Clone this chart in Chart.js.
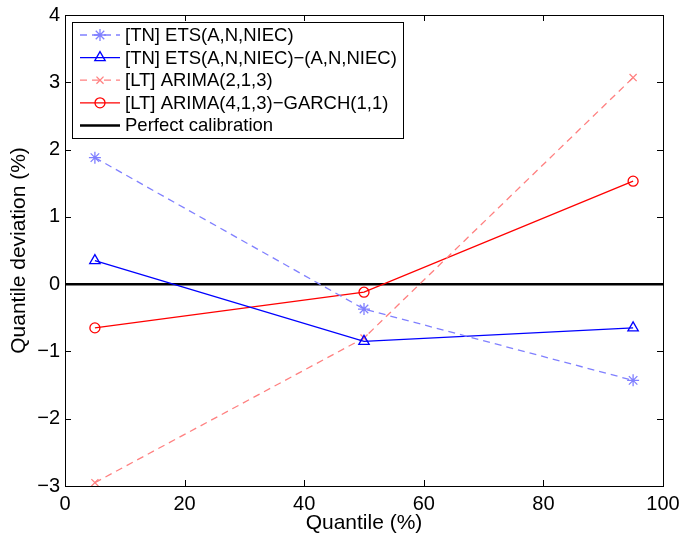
<!DOCTYPE html>
<html>
<head>
<meta charset="utf-8">
<script src="https://cdn.jsdelivr.net/npm/chart.js@4/dist/chart.umd.min.js"></script>
<style>
  html, body { margin: 0; padding: 0; background: #fff; }
</style>
</head>
<body>
<canvas id="chart" width="682" height="536"></canvas>
<script>
// quantile levels and deviations
const quantiles = [5, 50, 95];
const etsValues = [1.88, -0.37, -1.43];
const etsNiecValues = [0.35, -0.85, -0.65];
const arimaValues = [-2.95, -0.80, 3.07];
const garchValues = [-0.65, -0.12, 1.53];
const calibrationX = [0, 100];
const calibrationY = [0, 0];

const seriesLabels = [
  '[TN] ETS(A,N,NIEC)',
  '[TN] ETS(A,N,NIEC)\u2212(A,N,NIEC)',
  '[LT] ARIMA(2,1,3)',
  '[LT] ARIMA(4,1,3)\u2212GARCH(1,1)',
  'Perfect calibration'
];
const xTicks = [0, 20, 40, 60, 80, 100];
const yTicks = [-3, -2, -1, 0, 1, 2, 3, 4];

const FONT = 'Liberation Sans, Arial, Helvetica, sans-serif';

function pts(xs, ys) {
  return xs.map((x, i) => ({ x: x, y: ys[i] }));
}

const datasets = [
  { label: seriesLabels[0], data: pts(quantiles, etsValues), borderColor: '#8080ff',
    borderDash: [7, 5], pointStyle: 'star', pointRadius: 6 },
  { label: seriesLabels[1], data: pts(quantiles, etsNiecValues), borderColor: '#0000ff',
    pointStyle: 'triangle', pointRadius: 6 },
  { label: seriesLabels[2], data: pts(quantiles, arimaValues), borderColor: '#ff8080',
    borderDash: [7, 5], pointStyle: 'crossRot', pointRadius: 5 },
  { label: seriesLabels[3], data: pts(quantiles, garchValues), borderColor: '#ff0000',
    pointStyle: 'circle', pointRadius: 5 },
  { label: seriesLabels[4], data: pts(calibrationX, calibrationY), borderColor: '#000000',
    borderWidth: 2.5, pointRadius: 0, pointStyle: false }
].map(d => Object.assign({
  borderWidth: 1.3,
  pointBorderColor: d.borderColor,
  pointBackgroundColor: 'rgba(0,0,0,0)',
  pointBorderWidth: 1.3,
  pointHoverRadius: d.pointRadius,
  tension: 0,
  fill: false
}, d));

// box, inward ticks on all sides, axis titles and legend
const framePlugin = {
  id: 'frame',
  afterDraw(chart) {
    const { ctx, chartArea: a, scales } = chart;
    ctx.save();
    ctx.strokeStyle = '#000';
    ctx.lineWidth = 1;
    ctx.beginPath();
    xTicks.forEach(v => {
      const x = Math.round(scales.x.getPixelForValue(v)) + 0.5;
      ctx.moveTo(x, a.bottom); ctx.lineTo(x, a.bottom - 6);
      ctx.moveTo(x, a.top); ctx.lineTo(x, a.top + 6);
    });
    yTicks.forEach(v => {
      const y = Math.round(scales.y.getPixelForValue(v)) + 0.5;
      ctx.moveTo(a.left, y); ctx.lineTo(a.left + 6, y);
      ctx.moveTo(a.right, y); ctx.lineTo(a.right - 6, y);
    });
    ctx.stroke();
    ctx.strokeRect(Math.round(a.left) + 0.5, Math.round(a.top) + 0.5,
      Math.round(a.right - a.left), Math.round(a.bottom - a.top));

    // axis titles
    ctx.fillStyle = '#000';
    ctx.font = '21px ' + FONT;
    ctx.textAlign = 'center';
    ctx.textBaseline = 'middle';
    ctx.fillText('Quantile (%)', (a.left + a.right) / 2, 523);
    ctx.save();
    ctx.translate(19, (a.top + a.bottom) / 2);
    ctx.rotate(-Math.PI / 2);
    ctx.fillText('Quantile deviation (%)', 0, 0);
    ctx.restore();

    // legend
    const bx = 72.5, by = 22.5, bw = 331, bh = 116;
    ctx.fillStyle = '#fff';
    ctx.fillRect(bx, by, bw, bh);
    ctx.strokeStyle = '#000';
    ctx.lineWidth = 1;
    ctx.strokeRect(bx, by, bw, bh);
    ctx.font = '18.5px ' + FONT;
    ctx.textAlign = 'left';
    chart.data.datasets.forEach((ds, i) => {
      const y = 35 + i * 22.6;
      ctx.save();
      ctx.strokeStyle = ds.borderColor;
      ctx.lineWidth = ds.borderWidth;
      ctx.setLineDash(ds.borderDash || []);
      ctx.beginPath();
      ctx.moveTo(80, y); ctx.lineTo(120, y);
      ctx.stroke();
      ctx.setLineDash([]);
      if (ds.pointStyle) {
        ctx.fillStyle = 'rgba(0,0,0,0)';
        ctx.lineWidth = ds.pointBorderWidth;
        Chart.helpers.drawPoint(ctx, {
          pointStyle: ds.pointStyle, radius: ds.pointRadius, rotation: 0,
          borderWidth: ds.pointBorderWidth
        }, 100, y);
      }
      ctx.restore();
      ctx.fillStyle = '#000';
      ctx.fillText(ds.label, 125, y + 1);
    });
    ctx.restore();
  }
};

function fmt(v) {
  return String(v).replace('-', '\u2212');
}

new Chart(document.getElementById('chart').getContext('2d'), {
  type: 'line',
  data: { datasets: datasets },
  options: {
    responsive: false,
    animation: false,
    devicePixelRatio: 1,
    layout: { padding: { top: 15, right: 19, left: 0, bottom: 0 } },
    plugins: { legend: { display: false }, tooltip: { enabled: false } },
    scales: {
      x: {
        type: 'linear', min: 0, max: 100,
        afterBuildTicks: s => { s.ticks = xTicks.map(v => ({ value: v })); },
        afterFit: s => { s.height = 50; s.paddingLeft = 0; s.paddingRight = 0; },
        grid: { display: false, drawTicks: false },
        border: { display: false },
        ticks: { color: '#000', font: { family: FONT, size: 20 }, padding: 6,
          maxRotation: 0, callback: fmt }
      },
      y: {
        type: 'linear', min: -3, max: 4,
        afterBuildTicks: s => { s.ticks = yTicks.map(v => ({ value: v })); },
        afterFit: s => { s.width = 65; s.paddingTop = 0; s.paddingBottom = 0; },
        grid: { display: false, drawTicks: false },
        border: { display: false },
        ticks: { color: '#000', font: { family: FONT, size: 20 }, padding: 5,
          callback: fmt }
      }
    }
  },
  plugins: [framePlugin]
});
</script>
</body>
</html>
